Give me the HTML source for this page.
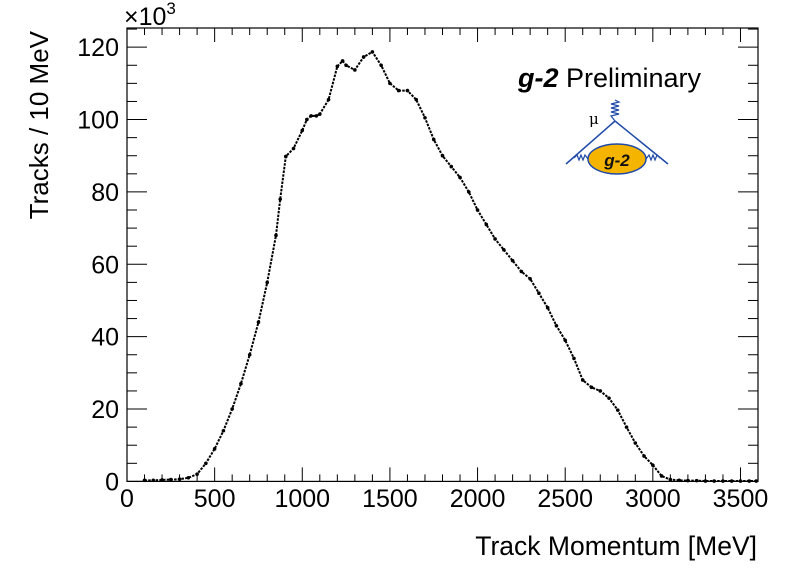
<!DOCTYPE html>
<html><head><meta charset="utf-8"><style>
body{margin:0;background:#fff;}
svg{display:block;font-family:"Liberation Sans",sans-serif;}
</style></head><body>
<svg id="chart" width="798" height="574" viewBox="0 0 798 574">
<rect width="798" height="574" fill="#fff"/>
<g id="axes"></g>
<g id="marks"></g>
<text x="757" y="555" text-anchor="end" font-size="26.5">Track Momentum [MeV]</text>
<text transform="translate(48,31) rotate(-90)" text-anchor="end" font-size="26">Tracks / 10 MeV</text>
<text x="124" y="25" font-size="25">×10<tspan dy="-11" font-size="17">3</tspan></text>
<g>
<text x="518" y="87" font-size="27"><tspan font-weight="bold" font-style="italic">g-2</tspan> Preliminary</text>
<text x="589" y="124" font-size="15" font-family="DejaVu Serif,serif">μ</text>
<polyline points="615,100 619,102 611,104 619,106 611,108 619,110 611,112 619,114 611,116 615,121" fill="none" stroke="#1f4aa8" stroke-width="1.2"/>
<line x1="615" y1="121" x2="566" y2="164" stroke="#1f4aa8" stroke-width="1.5"/>
<line x1="615" y1="121" x2="668" y2="164" stroke="#1f4aa8" stroke-width="1.5"/>
<polyline points="574,158 577,155 579,160 581,155 583,160 585,155 588,159" fill="none" stroke="#1f4aa8" stroke-width="1.2"/>
<polyline points="646,159 649,155 651,160 653,155 655,160 657,155 660,158" fill="none" stroke="#1f4aa8" stroke-width="1.2"/>
<ellipse cx="617" cy="159" rx="29" ry="15" fill="#f5b400" stroke="#1f4aa8" stroke-width="1.5"/>
<text x="617" y="166" text-anchor="middle" font-size="17" font-weight="bold" font-style="italic" fill="#111">g-2</text>
</g>
</svg>
<script>
const momentum=[100,150,200,250,300,350,400,450,500,550,600,650,700,750,800,850,874,906,950,1000,1026,1050,1080,1100,1150,1200,1230,1250,1300,1350,1400,1450,1500,1550,1600,1650,1700,1750,1800,1850,1900,1950,2000,2050,2100,2150,2200,2250,2300,2350,2400,2450,2500,2550,2600,2650,2700,2750,2800,2850,2900,2950,3000,3050,3100,3150,3200,3250,3300,3350,3400,3450,3500,3550,3590];
const tracks=[0.3,0.3,0.4,0.5,0.6,1.0,2.0,5,9,14,20,27,35,44,55,68,78,89.8,92,97,100,101,101,101.5,105.5,114.7,116.2,115,113.7,117.3,118.7,115,110,108,108,105.5,100.5,94.5,90,87,84,80,75,71,67,64,61,58,56,52,48,43,39,34,28,26,25,23,19.7,15,10.6,7,4.5,1.5,0.5,0.3,0.2,0.2,0.1,0.1,0.1,0.1,0.1,0.1,0.1];
const xTicks=[0,500,1000,1500,2000,2500,3000,3500];
const yTicks=[0,20,40,60,80,100,120];
const X0=127,X1=758,Y0=481.4,Y1=28,XMAX=3600,YMAX=125.3;
function sx(v){return X0+(v/XMAX)*(X1-X0);}
function sy(v){return Y0-(v/YMAX)*(Y0-Y1);}
const NS='http://www.w3.org/2000/svg';
function mk(t,a,p){const e=document.createElementNS(NS,t);for(const k in a)e.setAttribute(k,a[k]);p.appendChild(e);return e;}
const axes=document.getElementById('axes'),marks=document.getElementById('marks');
const frame=mk('rect',{x:X0,y:Y1,width:X1-X0,height:Y0-Y1,fill:'none',stroke:'#000','stroke-width':1.2},axes);


for(let v=0;v<=XMAX;v+=100){const x=sx(v);const L=(v%500===0)?14:7;
mk('line',{x1:x,y1:Y0,x2:x,y2:Y0-L,stroke:'#000'},axes);
mk('line',{x1:x,y1:Y1,x2:x,y2:Y1+L,stroke:'#000'},axes);}
for(let v=0;v<=YMAX;v+=5){const y=sy(v);const L=(v%20===0)?20:10;
mk('line',{x1:X0,y1:y,x2:X0+L,y2:y,stroke:'#000'},axes);
mk('line',{x1:X1,y1:y,x2:X1-L,y2:y,stroke:'#000'},axes);}
xTicks.forEach(v=>{const t=mk('text',{x:sx(v),y:507,'text-anchor':'middle','font-size':25},axes);t.textContent=v;

});
yTicks.forEach(v=>{const t=mk('text',{x:119,y:sy(v)+9,'text-anchor':'end','font-size':25},axes);t.textContent=v;

});
const pts=momentum.map((m,i)=>sx(m)+','+sy(tracks[i])).join(' ');
const line=mk('polyline',{points:pts,fill:'none',stroke:'#000','stroke-width':2,'stroke-dasharray':'2.5 1.2'},marks);


momentum.forEach((m,i)=>{const c=mk('circle',{cx:sx(m),cy:sy(tracks[i]),r:1.8,fill:'#000'},marks);

});
</script>
</body></html>
